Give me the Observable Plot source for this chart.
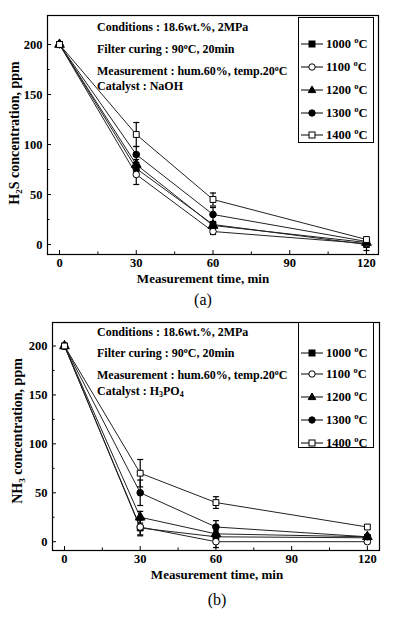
<!DOCTYPE html>
<html>
<head>
<meta charset="utf-8">
<script src="https://cdn.jsdelivr.net/npm/d3@7"></script>
<script src="https://cdn.jsdelivr.net/npm/@observablehq/plot@0.6"></script>
<style>
  html, body { margin: 0; padding: 0; background: #fff; }
  #root { position: relative; width: 394px; height: 618px; font-family: "Liberation Serif", "Times New Roman", serif; color: #000; }
  .panel { position: absolute; left: 0; width: 394px; }
  .ann { position: absolute; font-weight: bold; font-size: 12px; white-space: nowrap; line-height: 1; }
  .ann sup { font-size: 8px; vertical-align: 4px; line-height: 0; }
  .ann sub { font-size: 8px; vertical-align: -2px; line-height: 0; }
  .legend { position: absolute; border: 1.2px solid #000; background: #fff; box-sizing: border-box; }
  .lrow { position: absolute; left: 2px; height: 14px; display: flex; align-items: center; font-weight: bold; font-size: 12.5px; white-space: nowrap; }
  .lrow svg { margin-right: 3px; }
  .lrow sup { font-size: 8.5px; vertical-align: 5px; line-height: 0; }
  .ylab { position: absolute; font-weight: bold; font-size: 14px; white-space: nowrap; transform: translate(-50%, -50%) rotate(-90deg); line-height: 1; }
  .ylab sub { font-size: 9px; vertical-align: -3px; line-height: 0; }
  .cap { position: absolute; font-size: 16px; transform: translateX(-50%); line-height: 1; }
</style>
</head>
<body>
<div id="root"></div>
<script>
// ---- data ----
const times = [0, 30, 60, 120];
const seriesNames = ["1000", "1100", "1200", "1300", "1400"];
const xTicks = [0, 30, 60, 90, 120];
const xMinorTicks = [15, 45, 75, 105];
const yTicks = [0, 50, 100, 150, 200];
const yMinorTicks = [25, 75, 125, 175];

// Panel (a): H2S, catalyst NaOH
const h2s1000 = [200, 76, 20, 0];
const h2s1100 = [200, 70, 13, 1];
const h2s1200 = [200, 80, 19, 2];
const h2s1300 = [200, 90, 30, 3];
const h2s1400 = [200, 110, 45, 5];
const h2sErr1000 = [2, 6, 3, 6];
const h2sErr1100 = [2, 10, 3, 1];
const h2sErr1200 = [2, 5, 3, 1];
const h2sErr1300 = [2, 8, 7, 1];
const h2sErr1400 = [3, 12, 6.5, 1];

// Panel (b): NH3, catalyst H3PO4
const nh31000 = [200, 14, 5, 4];
const nh31100 = [200, 15, 0, 0];
const nh31200 = [200, 25, 8, 5];
const nh31300 = [200, 50, 15, 5];
const nh31400 = [200, 70, 40, 15];
const nh3Err1000 = [2, 8, 3, 2];
const nh3Err1100 = [2, 8, 6, 2];
const nh3Err1200 = [2, 6, 3, 2];
const nh3Err1300 = [2, 13, 6.5, 2];
const nh3Err1400 = [2, 14, 6, 2];

const annLinesA = ["Conditions : 18.6wt.%, 2MPa", "Filter curing : 90<sup>o</sup>C, 20min", "Measurement : hum.60%, temp.20<sup>o</sup>C", "Catalyst : NaOH"];
const annLinesB = ["Conditions : 18.6wt.%, 2MPa", "Filter curing : 90<sup>o</sup>C, 20min", "Measurement : hum.60%, temp.20<sup>o</sup>C", "Catalyst : H<sub>3</sub>PO<sub>4</sub>"];

// ---- build tables ----
function table(vals, errs) {
  const rows = [];
  seriesNames.forEach((s, i) => {
    times.forEach((t, j) => rows.push({s, t, v: vals[i][j], e: errs[i][j]}));
  });
  return rows;
}
const dataA = table([h2s1000, h2s1100, h2s1200, h2s1300, h2s1400], [h2sErr1000, h2sErr1100, h2sErr1200, h2sErr1300, h2sErr1400]);
const dataB = table([nh31000, nh31100, nh31200, nh31300, nh31400], [nh3Err1000, nh3Err1100, nh3Err1200, nh3Err1300, nh3Err1400]);

const markerStyle = {
  "1000": {symbol: "square", fill: "black"},
  "1100": {symbol: "circle", fill: "white"},
  "1200": {symbol: "triangle", fill: "black"},
  "1300": {symbol: "circle", fill: "black"},
  "1400": {symbol: "square", fill: "white"}
};
const capSymbol = {draw(ctx) { ctx.moveTo(-3, 0); ctx.lineTo(3, 0); }};

function makePlot(data, opts) {
  const marks = [
    Plot.line(data, {x: "t", y: "v", z: "s", stroke: "#222", strokeWidth: 1}),
    Plot.ruleX(data, {x: "t", y1: d => d.v - d.e, y2: d => d.v + d.e, stroke: "black", strokeWidth: 1.2}),
    Plot.dot(data, {x: "t", y: d => d.v + d.e, symbol: capSymbol, stroke: "black", strokeWidth: 1.2, fill: "none"}),
    Plot.dot(data, {x: "t", y: d => d.v - d.e, symbol: capSymbol, stroke: "black", strokeWidth: 1.2, fill: "none"})
  ];
  seriesNames.forEach(s => {
    const m = markerStyle[s];
    marks.push(Plot.dot(data.filter(d => d.s === s), {x: "t", y: "v", symbol: m.symbol, fill: m.fill, stroke: "black", strokeWidth: 1, r: m.symbol === "triangle" ? 3.6 : 3.3}));
  });
  marks.push(
    Plot.axisX({ticks: xTicks, tickSize: 0, tickPadding: 4, label: null, fontSize: 12.5}),
    Plot.axisX({ticks: xTicks, tickSize: -4, text: null, label: null}),
    Plot.axisX({ticks: xMinorTicks, tickSize: -2.5, text: null, label: null}),
    Plot.axisY({ticks: yTicks, tickSize: 0, tickPadding: 5, label: null, fontSize: 12.5}),
    Plot.axisY({ticks: yTicks, tickSize: -4, text: null, label: null}),
    Plot.axisY({ticks: yMinorTicks, tickSize: -2.5, text: null, label: null}),
    Plot.frame({stroke: "black", strokeWidth: 1.2})
  );
  return Plot.plot({
    width: 394,
    height: opts.height,
    marginLeft: opts.ml, marginRight: opts.mr, marginTop: opts.mt, marginBottom: opts.mb,
    x: {domain: opts.xd},
    y: {domain: opts.yd},
    style: {fontFamily: '"Liberation Serif", serif', fontWeight: "bold", fontSize: "12.5px", color: "black", background: "white"},
    marks
  });
}

const root = document.getElementById("root");

function addPanel(top, data, opts, annLines, annYs, legendBox, ylabText, ylabPos, xlabY, capText, capY) {
  const div = document.createElement("div");
  div.className = "panel";
  div.style.top = top + "px";
  div.appendChild(makePlot(data, opts));
  root.appendChild(div);

  annLines.forEach((txt, i) => {
    const a = document.createElement("div");
    a.className = "ann";
    a.style.left = "97px";
    a.style.top = (top + annYs[i] - 6) + "px";
    a.innerHTML = txt;
    root.appendChild(a);
  });

  const lg = document.createElement("div");
  lg.className = "legend";
  Object.assign(lg.style, {left: legendBox.x + "px", top: (top + legendBox.y) + "px", width: legendBox.w + "px", height: legendBox.h + "px"});
  seriesNames.forEach((s, i) => {
    const row = document.createElement("div");
    row.className = "lrow";
    row.style.top = (legendBox.rows[i] - legendBox.y - 7) + "px";
    const m = markerStyle[s];
    let shape;
    if (m.symbol === "square") shape = `<rect x="8" y="2" width="6" height="6" fill="${m.fill}" stroke="black"/>`;
    else if (m.symbol === "circle") shape = `<circle cx="11" cy="5" r="3.2" fill="${m.fill}" stroke="black"/>`;
    else shape = `<path d="M11,1 L14.8,7.6 L7.2,7.6 Z" fill="black" stroke="black"/>`;
    row.innerHTML = `<svg width="22" height="10"><line x1="0" y1="5" x2="22" y2="5" stroke="black" stroke-width="1"/>${shape}</svg><span>${s} <sup>o</sup>C</span>`;
    lg.appendChild(row);
  });
  root.appendChild(lg);

  const yl = document.createElement("div");
  yl.className = "ylab";
  yl.style.left = ylabPos[0] + "px";
  yl.style.top = (top + ylabPos[1]) + "px";
  yl.innerHTML = ylabText;
  root.appendChild(yl);

  const xl = document.createElement("div");
  xl.className = "ann";
  xl.style.fontSize = "13px";
  xl.style.transform = "translateX(-50%)";
  xl.style.left = opts.xlabX + "px";
  xl.style.top = (top + xlabY - 6) + "px";
  xl.textContent = "Measurement time, min";
  root.appendChild(xl);

  const c = document.createElement("div");
  c.className = "cap";
  c.style.left = opts.xlabX + "px";
  c.style.top = (top + capY - 8) + "px";
  c.textContent = capText;
  root.appendChild(c);
}

addPanel(0, dataA,
  {height: 308, ml: 47, mr: 16, mt: 15, mb: 54, xd: [-4.7, 124.7], yd: [-10, 229], xlabX: 203},
  annLinesA, [27, 49, 71, 86],
  {x: 298, y: 17, w: 76, h: 126, rows: [43, 66, 89, 112, 134]},
  "H<sub>2</sub>S concentration, ppm", [15, 133], 278, "(a)", 300);

addPanel(308, dataB,
  {height: 310, ml: 52, mr: 15, mt: 14, mb: 68, xd: [-4.75, 124.8], yd: [-9, 224], xlabX: 217},
  annLinesB, [24, 45, 67, 83],
  {x: 298, y: 14, w: 76, h: 126, rows: [44, 65, 88, 111, 134]},
  "NH<sub>3</sub> concentration, ppm", [18, 123], 266, "(b)", 292);
</script>
</body>
</html>
